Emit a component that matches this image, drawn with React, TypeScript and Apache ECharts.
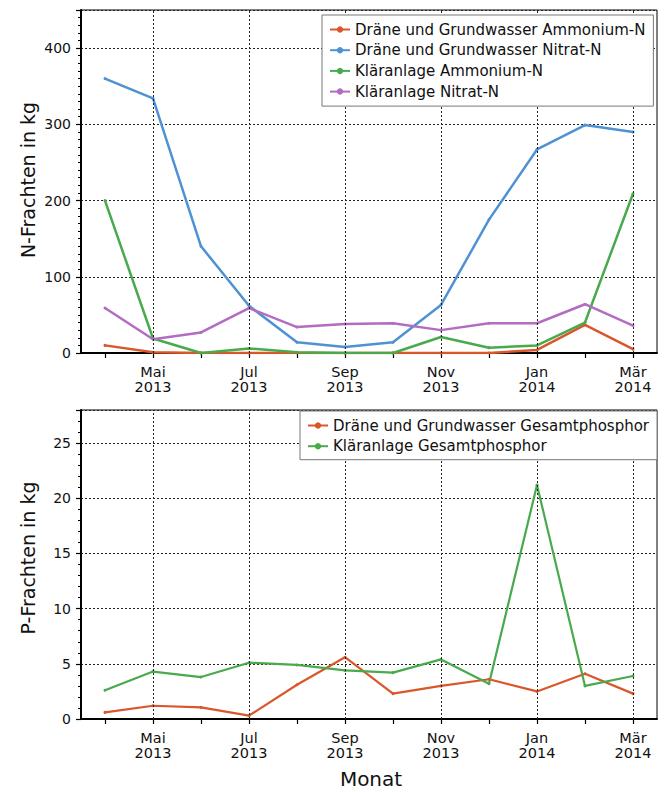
import React, { useEffect, useRef } from "react";
import * as echarts from "echarts";

const months = [
  "Apr 2013", "Mai 2013", "Jun 2013", "Jul 2013", "Aug 2013", "Sep 2013",
  "Okt 2013", "Nov 2013", "Dez 2013", "Jan 2014", "Feb 2014", "Mär 2014",
];
const gridMonths = ["Mai 2013", "Jul 2013", "Sep 2013", "Nov 2013", "Jan 2014", "Mär 2014"];

// Top panel: N loads (kg)
const draeneAmmonium = [10, 1, 0, 0, 0, 0, 0, 0, 0, 4, 37, 5];
const draeneNitrat = [360, 334, 140, 62, 14, 8, 14, 63, 175, 267, 299, 290];
const klaerAmmonium = [200, 19, 0, 6, 1, 0, 0, 21, 7, 10, 40, 209];
const klaerNitrat = [59, 18, 27, 59, 34, 38, 39, 30, 39, 39, 64, 36];

// Bottom panel: P loads (kg)
const draenePhosphor = [0.6, 1.2, 1.05, 0.3, 3.1, 5.6, 2.3, 3.0, 3.6, 2.5, 4.1, 2.3];
const klaerPhosphor = [2.6, 4.3, 3.8, 5.1, 4.9, 4.4, 4.2, 5.4, 3.2, 21.2, 3.0, 3.9];

const topNames = [
  "Dräne und Grundwasser Ammonium-N",
  "Dräne und Grundwasser Nitrat-N",
  "Kläranlage Ammonium-N",
  "Kläranlage Nitrat-N",
];
const bottomNames = [
  "Dräne und Grundwasser Gesamtphosphor",
  "Kläranlage Gesamtphosphor",
];

const ORANGE = "#d9572a";
const BLUE = "#4f92d3";
const GREEN = "#48aa4c";
const PURPLE = "#b26cc2";

const FONT = "'DejaVu Sans', sans-serif";

export default function App() {
  const ref = useRef<HTMLDivElement>(null);

  useEffect(() => {
    if (!ref.current) return;
    const chart = echarts.init(ref.current, undefined, { renderer: "svg" });

    const isOdd = (i: number) => i % 2 === 1;

    const xAxisBase = (gridIndex: number) => ({
      type: "category",
      gridIndex,
      data: months,
      boundaryGap: true,
      axisLine: { show: true, lineStyle: { color: "#000", width: 2 } },
      axisTick: {
        show: true,
        alignWithLabel: true,
        interval: 0,
        length: 5,
        lineStyle: { color: "#000", width: 1.2 },
      },
      axisLabel: {
        interval: (i: number) => isOdd(i),
        formatter: (v: string) => v.replace(" ", "\n"),
        color: "#111",
        fontFamily: FONT,
        fontSize: 14.5,
        lineHeight: 15,
        margin: 11,
      },
      splitLine: { show: false },
    });

    const yAxisBase = (gridIndex: number, max: number, interval: number, minorSplit: number) => ({
      type: "value",
      gridIndex,
      min: 0,
      max,
      interval,
      axisLine: { show: true, lineStyle: { color: "#000", width: 2 } },
      axisTick: { show: true, inside: false, length: 5, lineStyle: { color: "#000", width: 1.2 } },
      minorTick: { show: true, splitNumber: minorSplit, length: 3, lineStyle: { color: "#000", width: 1 } },
      axisLabel: {
        showMaxLabel: false,
        color: "#111",
        fontFamily: FONT,
        fontSize: 14,
        margin: 10,
      },
      splitLine: { show: true, lineStyle: { color: "#222", type: [2, 2], width: 1 } },
    });

    const vGrid = {
      silent: true,
      symbol: ["none", "none"],
      label: { show: false },
      lineStyle: { color: "#222", type: [2, 2], width: 1 },
      emphasis: { disabled: true },
      data: gridMonths.map((m) => ({ xAxis: m })),
    };

    const lineSeries = (
      name: string,
      data: number[],
      color: string,
      axisIndex: number,
      width: number,
      withGrid = false
    ) => ({
      name,
      type: "line",
      xAxisIndex: axisIndex,
      yAxisIndex: axisIndex,
      z: 2,
      data,
      symbol: "circle",
      symbolSize: 3,
      showSymbol: true,
      itemStyle: { color },
      lineStyle: { color, width },
      ...(withGrid ? { markLine: vGrid } : {}),
    });

    const legendBase = {
      orient: "vertical",
      z: 20,
      backgroundColor: "#fff",
      borderColor: "#777",
      borderWidth: 1,
      borderRadius: 0,
      itemWidth: 20,
      itemHeight: 8,
      itemGap: 5.7,
      textStyle: { fontFamily: FONT, fontSize: 15, lineHeight: 15, color: "#111" },
    };

    chart.setOption({
      animation: false,
      backgroundColor: "#fff",
      grid: [
        { left: 81, right: 7, top: 10, height: 343, show: true, borderColor: "#000", borderWidth: 1, backgroundColor: "transparent" },
        { left: 81, right: 7, top: 410, height: 309, show: true, borderColor: "#000", borderWidth: 1, backgroundColor: "transparent" },
      ],
      xAxis: [xAxisBase(0), xAxisBase(1)],
      yAxis: [yAxisBase(0, 450, 100, 10), yAxisBase(1, 28, 5, 5)],
      legend: [
        { ...legendBase, data: topNames, left: 322, top: 15, padding: [7, 8, 7, 7] },
        { ...legendBase, data: bottomNames, left: 300, top: 411, padding: [7, 8, 6, 7] },
      ],
      series: [
        lineSeries(topNames[0], draeneAmmonium, ORANGE, 0, 2.5, true),
        lineSeries(topNames[1], draeneNitrat, BLUE, 0, 2.5),
        lineSeries(topNames[2], klaerAmmonium, GREEN, 0, 2.5),
        lineSeries(topNames[3], klaerNitrat, PURPLE, 0, 2.5),
        lineSeries(bottomNames[0], draenePhosphor, ORANGE, 1, 2.2, true),
        lineSeries(bottomNames[1], klaerPhosphor, GREEN, 1, 2.2),
      ],
      graphic: [
        {
          type: "text",
          x: 28,
          y: 180,
          rotation: Math.PI / 2,
          style: {
            text: "N-Frachten in kg",
            font: `19px ${FONT}`,
            fill: "#111",
            textAlign: "center",
            textVerticalAlign: "middle",
          },
        },
        {
          type: "text",
          x: 28,
          y: 558,
          rotation: Math.PI / 2,
          style: {
            text: "P-Frachten in kg",
            font: `19px ${FONT}`,
            fill: "#111",
            textAlign: "center",
            textVerticalAlign: "middle",
          },
        },
        {
          type: "text",
          x: 371,
          y: 779,
          style: {
            text: "Monat",
            font: `20px ${FONT}`,
            fill: "#111",
            textAlign: "center",
            textVerticalAlign: "middle",
          },
        },
      ],
    });

    return () => chart.dispose();
  }, []);

  return (
    <div
      ref={ref}
      style={{ position: "fixed", left: 0, top: 0, width: 664, height: 792, background: "#fff" }}
    />
  );
}
